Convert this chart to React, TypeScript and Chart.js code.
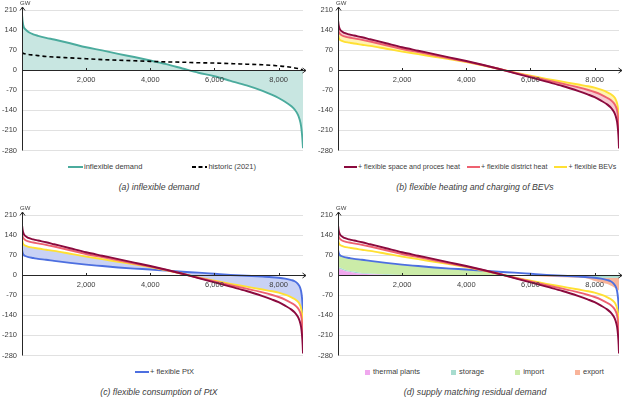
import React, { useEffect, useRef } from "react";
import { Chart, registerables } from "chart.js";

Chart.register(...registerables);

const FONT = "'Liberation Sans', Arial, sans-serif";
Chart.defaults.font.family = FONT;

// ---------- data ----------
const HOURS = [0, 20, 50, 100, 200, 350, 500, 750, 1000, 1500, 2000, 2500, 3000, 3500, 4000, 4500, 5000, 5500, 6000, 6500, 7000, 7500, 7800, 8000, 8200, 8400, 8500, 8600, 8650, 8700, 8730, 8750, 8760];
const X_TICKS = [2000, 4000, 6000, 8000];
const Y_TICKS = [-280, -210, -140, -70, 0, 70, 140, 210];

const INFLEXIBLE = [195, 170, 152, 143, 133, 125, 120, 113, 107, 94, 80, 69, 57, 46, 34, 21, 6, -9, -21, -37, -53, -72, -86, -97, -110, -126, -137, -155, -170, -195, -225, -255, -272];
const HISTORIC = [62, 60, 58, 57, 55, 53, 51, 48, 46, 43, 40, 37, 35, 33, 31, 29, 28, 26, 25, 23, 21, 19, 17, 15, 13, 10, 8, 6, 5, 3, 2, 1, 0];
const SPACE_HEAT = [176, 158, 145, 137, 130, 125, 121, 115, 108, 94, 80, 68, 56, 44, 32, 19, 5, -10, -25, -40, -55, -73, -85, -94, -106, -120, -130, -145, -158, -180, -210, -245, -273];
const DISTRICT_HEAT = [148, 135, 128, 123, 118, 114, 111, 106, 100, 87, 74, 63, 52, 41, 30, 18, 5, -9, -22, -35, -47, -60, -69, -76, -85, -97, -104, -115, -124, -140, -165, -200, -234];
const BEVS = [128, 114, 107, 103, 99, 96, 93, 89, 85, 75, 65, 56, 47, 38, 28, 17, 5, -8, -19, -30, -40, -50, -56, -61, -68, -77, -83, -92, -100, -115, -135, -165, -194];
const PTX = [90, 78, 71, 67, 63, 60, 57, 54, 50, 43, 37, 32, 27, 23, 20, 16, 12, 9, 5, 1, -2, -5, -7, -9, -12, -17, -21, -30, -38, -55, -80, -110, -132];

const THERMAL = [28, 24, 22, 20, 16, 12, 9, 5, 3, 1, 0, 0, 0, 0, 0, 0, 0, 0, 0, 0, 0, 0, 0, 0, 0, 0, 0, 0, 0, 0, 0, 0, 0];
const STORAGE = [5, 5, 5, 5, 4, 4, 4, 3, 3, 2, 1, 1, 0, 0, 0, 0, 0, 0, 0, 0, 0, 0, -3, -8, -9, -9, -9, -9, -9, -9, -9, -9, -9];
const IMPORT = [56, 48, 43, 41, 42, 43, 43, 45, 43, 39, 35, 30, 26, 22, 19, 15, 8, 0, 0, 0, 0, 0, 0, 0, 0, 0, 0, 0, 0, 0, 0, 0, 0];
const EXPORT = [0, 0, 0, 0, 0, 0, 0, 0, 0, 0, 0, 0, 0, 0, 0, 0, 0, -1, -3, -5, -7, -9, -9, -12, -16, -22, -27, -33, -36, -40, -42, -44, -45];

// ---------- styles ----------
const TEXT = "#404040";
const AXIS = "#262626";
const TEAL = "#4bab9d";
const TEAL_FILL = "#c8e6e1";
const DARK_RED = "#8b0a3e";
const PINK = "#ee6170";
const YELLOW = "#ffe033";
const PINK_FILL = "#f7c9d1";
const YELLOW_FILL = "#fff2b3";
const BLUE = "#4d6fe0";
const BLUE_FILL = "#c9d2f5";
const THERMAL_C = "#f0a8ee";
const STORAGE_C = "#a7dccf";
const IMPORT_C = "#cbeca8";
const EXPORT_C = "#f9b49a";

const L_SPACE = "+ flexible space and proces heat";
const L_DISTRICT = "+ flexible district heat";
const L_BEV = "+ flexible BEVs";
const L_PTX = "+ flexible PtX";

function pts(vals: number[]) {
  return HOURS.map((h, i) => ({ x: h, y: vals[i] }));
}

function lineDs(label: string, vals: number[], color: string, extra: any = {}) {
  return {
    label,
    data: pts(vals),
    borderColor: color,
    backgroundColor: color,
    borderWidth: 1.9,
    pointRadius: 0,
    fill: false,
    cubicInterpolationMode: "monotone",
    ...extra,
  };
}

function areaDs(label: string, vals: number[], color: string, target: any) {
  return {
    label,
    data: pts(vals),
    borderColor: "rgba(0,0,0,0)",
    backgroundColor: color,
    borderWidth: 0,
    pointRadius: 0,
    cubicInterpolationMode: "monotone",
    fill: { target, above: color, below: color },
  };
}

const axisDecor = {
  id: "axisDecor",
  afterDraw(chart: any) {
    const { ctx, chartArea, scales } = chart;
    const { left, right, top, bottom } = chartArea;
    const y0 = Math.round(scales.y.getPixelForValue(0)) + 0.5;
    const lx = Math.round(left) + 0.5;
    ctx.save();
    ctx.strokeStyle = AXIS;
    ctx.lineWidth = 1;
    ctx.beginPath();
    ctx.moveTo(lx, bottom);
    ctx.lineTo(lx, top - 3);
    ctx.moveTo(lx - 2.5, top + 0.5);
    ctx.lineTo(lx, top - 3);
    ctx.lineTo(lx + 2.5, top + 0.5);
    ctx.moveTo(left, y0);
    ctx.lineTo(right + 3, y0);
    ctx.moveTo(right - 0.5, y0 - 2.5);
    ctx.lineTo(right + 3, y0);
    ctx.lineTo(right - 0.5, y0 + 2.5);
    for (const t of X_TICKS) {
      const px = Math.round(scales.x.getPixelForValue(t)) + 0.5;
      ctx.moveTo(px, y0);
      ctx.lineTo(px, y0 - 2.5);
    }
    ctx.stroke();
    ctx.restore();
  },
};

function buildConfig(width: number, datasets: any[]) {
  return {
    type: "line",
    data: { datasets },
    plugins: [axisDecor],
    options: {
      animation: false,
      responsive: false,
      maintainAspectRatio: false,
      events: [],
      layout: { padding: { top: 10, bottom: 6, left: 0, right: width - 303 } },
      plugins: { legend: { display: false }, tooltip: { enabled: false }, title: { display: false } },
      scales: {
        x: {
          type: "linear",
          min: 0,
          max: 8760,
          position: { y: 0 },
          grid: { display: false, drawTicks: false },
          border: { display: false },
          afterBuildTicks: (s: any) => {
            s.ticks = X_TICKS.map((v) => ({ value: v }));
          },
          ticks: {
            z: 1,
            font: { size: 7.5 },
            color: TEXT,
            padding: 5,
            maxRotation: 0,
            autoSkip: false,
            callback: (v: any) => Number(v).toLocaleString("en-US"),
          },
        },
        y: {
          type: "linear",
          min: -280,
          max: 210,
          afterBuildTicks: (s: any) => {
            s.ticks = Y_TICKS.map((v) => ({ value: v }));
          },
          grid: { color: "#d9d9d9", drawTicks: false, lineWidth: 0.8 },
          border: { display: false },
          ticks: { font: { size: 7.5 }, color: TEXT, padding: 5 },
          afterFit: (s: any) => {
            s.width = 22;
          },
        },
      },
    },
  };
}

type LegendItem = { kind: "line" | "dash" | "square"; color: string; text: string };

function Marker({ item, w }: { item: LegendItem; w: number }) {
  if (item.kind === "dash") {
    return (
      <svg width={15} height={4} style={{ display: "block" }}>
        <line x1={0} y1={2} x2={15} y2={2} stroke={item.color} strokeWidth={1.8} strokeDasharray="4 2.5" />
      </svg>
    );
  }
  if (item.kind === "square") {
    return <span style={{ display: "inline-block", width: 5, height: 5, background: item.color }} />;
  }
  return <span style={{ display: "inline-block", width: w, height: 2, background: item.color }} />;
}

type PanelProps = {
  left: number;
  top: number;
  width: number;
  datasets: () => any[];
  legend: LegendItem[];
  legendLeft: number;
  legendGap: number;
  legendFont: number;
  markerW: number;
  title: string;
};

function Panel(p: PanelProps) {
  const ref = useRef<HTMLCanvasElement>(null);
  useEffect(() => {
    const chart = new Chart(ref.current as HTMLCanvasElement, buildConfig(p.width, p.datasets()) as any);
    return () => chart.destroy();
  }, []);
  return (
    <div style={{ position: "absolute", left: p.left, top: p.top, width: p.width, height: 205, fontFamily: FONT, color: TEXT }}>
      <canvas ref={ref} width={p.width} height={160} style={{ position: "absolute", left: 0, top: 0, width: p.width, height: 160 }} />
      <span style={{ position: "absolute", left: 20, top: 0, fontSize: 6, lineHeight: "7px" }}>GW</span>
      <div
        style={{
          position: "absolute",
          left: p.legendLeft,
          top: 162,
          height: 10,
          display: "flex",
          alignItems: "center",
          gap: p.legendGap,
          whiteSpace: "nowrap",
          fontSize: p.legendFont,
          lineHeight: "10px",
        }}
      >
        {p.legend.map((it) => (
          <div key={it.text} style={{ display: "flex", alignItems: "center", gap: it.kind === "square" ? 3 : 1 }}>
            <Marker item={it} w={p.markerW} />
            <span>{it.text}</span>
          </div>
        ))}
      </div>
      <div
        style={{
          position: "absolute",
          left: 159 - 150,
          width: 300,
          top: 181,
          textAlign: "center",
          fontStyle: "italic",
          fontSize: 8.7,
          lineHeight: "12px",
          whiteSpace: "nowrap",
        }}
      >
        {p.title}
      </div>
    </div>
  );
}

const dsA = () => [
  lineDs("historic (2021)", HISTORIC, "#000000", { borderDash: [4, 3], borderWidth: 1.6 }),
  lineDs("inflexible demand", INFLEXIBLE, TEAL, { fill: { target: "origin", above: TEAL_FILL, below: TEAL_FILL } }),
];

const dsB = () => [
  lineDs(L_SPACE, SPACE_HEAT, DARK_RED),
  lineDs(L_DISTRICT, DISTRICT_HEAT, PINK, { fill: { target: 0, above: PINK_FILL, below: PINK_FILL } }),
  lineDs(L_BEV, BEVS, YELLOW, { fill: { target: 1, above: YELLOW_FILL, below: YELLOW_FILL } }),
];

const dsC = () => [
  lineDs(L_SPACE, SPACE_HEAT, DARK_RED),
  lineDs(L_DISTRICT, DISTRICT_HEAT, PINK),
  lineDs(L_BEV, BEVS, YELLOW),
  lineDs(L_PTX, PTX, BLUE, { fill: { target: 2, above: BLUE_FILL, below: BLUE_FILL } }),
];

const dsD = () => {
  const storagePos = HOURS.map((_, i) => THERMAL[i] + Math.max(STORAGE[i], 0));
  const importTop = HOURS.map((_, i) => storagePos[i] + IMPORT[i]);
  const storageNeg = HOURS.map((_, i) => Math.min(STORAGE[i], 0));
  const exportTop = HOURS.map((_, i) => storageNeg[i] + EXPORT[i]);
  return [
    lineDs(L_SPACE, SPACE_HEAT, DARK_RED),
    lineDs(L_DISTRICT, DISTRICT_HEAT, PINK),
    lineDs(L_BEV, BEVS, YELLOW),
    lineDs(L_PTX, PTX, BLUE),
    areaDs("thermal plants", THERMAL, THERMAL_C, "origin"),
    areaDs("storage", storagePos, STORAGE_C, 4),
    areaDs("import", importTop, IMPORT_C, 5),
    areaDs("storage (charging)", storageNeg, STORAGE_C, "origin"),
    areaDs("export", exportTop, EXPORT_C, 7),
  ];
};

export default function App() {
  return (
    <div style={{ position: "absolute", left: 0, top: 0, width: 631, height: 410, background: "#ffffff" }}>
      <Panel
        left={0}
        top={0}
        width={316}
        datasets={dsA}
        legend={[
          { kind: "line", color: TEAL, text: "inflexible demand" },
          { kind: "dash", color: "#000000", text: "historic (2021)" },
        ]}
        legendLeft={68}
        legendGap={50}
        legendFont={7.5}
        markerW={15}
        title="(a) inflexible demand"
      />
      <Panel
        left={316}
        top={0}
        width={315}
        datasets={dsB}
        legend={[
          { kind: "line", color: DARK_RED, text: L_SPACE },
          { kind: "line", color: PINK, text: L_DISTRICT },
          { kind: "line", color: YELLOW, text: L_BEV },
        ]}
        legendLeft={28}
        legendGap={7}
        legendFont={7.1}
        markerW={13}
        title="(b) flexible heating and charging of BEVs"
      />
      <Panel
        left={0}
        top={205}
        width={316}
        datasets={dsC}
        legend={[{ kind: "line", color: BLUE, text: L_PTX }]}
        legendLeft={135}
        legendGap={10}
        legendFont={7.5}
        markerW={14}
        title="(c) flexible consumption of PtX"
      />
      <Panel
        left={316}
        top={205}
        width={315}
        datasets={dsD}
        legend={[
          { kind: "square", color: THERMAL_C, text: "thermal plants" },
          { kind: "square", color: STORAGE_C, text: "storage" },
          { kind: "square", color: IMPORT_C, text: "import" },
          { kind: "square", color: EXPORT_C, text: "export" },
        ]}
        legendLeft={49}
        legendGap={31}
        legendFont={7.5}
        markerW={14}
        title="(d) supply matching residual demand"
      />
    </div>
  );
}
